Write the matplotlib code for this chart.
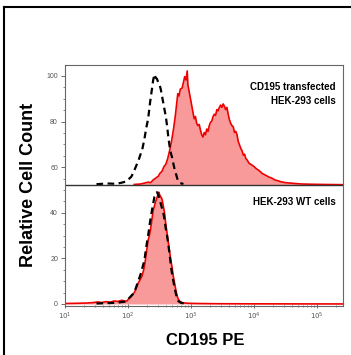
import matplotlib
matplotlib.use('Agg')
import matplotlib.pyplot as plt
import numpy as np
from matplotlib.lines import Line2D

plt.rcParams['font.family'] = ['Liberation Sans', 'DejaVu Sans']

# offset of the upper histogram (separator line)
offset = 52.2

# upper panel : CD195 transfected (red) and control (dashed), log10 of PE
top_red_logx = [2.10, 2.20, 2.26, 2.32, 2.36, 2.40, 2.44, 2.48, 2.51, 2.54, 2.57, 2.60, 2.63, 2.66,
                2.69, 2.72, 2.75, 2.77, 2.79, 2.81, 2.83, 2.86, 2.88, 2.90, 2.92, 2.94, 2.95, 2.97,
                2.99, 3.01, 3.03, 3.05, 3.07, 3.09, 3.11, 3.13, 3.15, 3.17, 3.19, 3.21, 3.23, 3.25,
                3.27, 3.29, 3.31, 3.33, 3.35, 3.37, 3.39, 3.41, 3.43, 3.45, 3.47, 3.49, 3.51, 3.53,
                3.55, 3.57, 3.59, 3.61, 3.63, 3.65, 3.67, 3.69, 3.71, 3.73, 3.75, 3.77, 3.79, 3.81,
                3.83, 3.85, 3.87, 3.89, 3.92, 3.95, 3.98, 4.01, 4.04, 4.07, 4.10, 4.13, 4.16, 4.20,
                4.24, 4.28, 4.33, 4.38, 4.44, 4.50, 4.58, 4.66, 4.75, 4.90, 5.10, 5.40]
top_red = [0.2, 0.4, 0.8, 1.2, 1.0, 2.2, 3.0, 3.8, 5.2, 6.0, 8.0, 9.0, 11.5, 15,
           19, 24, 30, 35, 40, 39, 42, 42.5, 45, 47.5, 46, 50, 44, 41,
           38, 35, 32, 29, 30, 27, 26, 26.5, 24, 22, 21, 23, 22, 24.5,
           23.5, 26, 27.5, 28, 30, 31, 30.5, 33, 32.5, 34, 35, 34, 35.5, 34.5,
           33, 34, 31, 28.5, 27, 26, 25.5, 23, 23.5, 22, 19, 17.5, 16, 15,
           13, 13.5, 11.5, 11, 9.5, 9, 8.5, 7.8, 7, 6.5, 5.8, 5.0, 4.6, 4.0,
           3.4, 3.0, 2.2, 1.8, 1.3, 1.0, 0.8, 0.6, 0.4, 0.3, 0.2, 0.1]

top_ctrl_logx = [1.50, 1.60, 1.70, 1.80, 1.87, 1.93, 1.97, 2.01, 2.05, 2.08, 2.11, 2.14, 2.17, 2.20,
                 2.23, 2.26, 2.29, 2.32, 2.35, 2.38, 2.40, 2.42, 2.44, 2.46, 2.48, 2.50, 2.52, 2.54,
                 2.56, 2.58, 2.60, 2.62, 2.64, 2.66, 2.68, 2.70, 2.73, 2.76, 2.79, 2.83, 2.88]
top_ctrl = [0.3, 0.5, 0.6, 0.5, 0.8, 1.2, 1.5, 2.5, 3.5, 5, 7, 9, 11, 13.5,
            16, 20, 25, 29, 36, 42, 46, 48.5, 47, 46.5, 45, 44, 42, 39,
            36, 33, 30, 26, 21, 17, 14, 12, 8, 5, 2, 0.8, 0.4]

# lower panel : HEK-293 WT cells
bot_red_logx = [1.00, 1.20, 1.35, 1.45, 1.52, 1.58, 1.65, 1.72, 1.78, 1.84, 1.90, 1.95, 1.98, 2.02,
                2.05, 2.08, 2.11, 2.14, 2.16, 2.19, 2.22, 2.25, 2.27, 2.30, 2.32, 2.34, 2.36, 2.38,
                2.40, 2.42, 2.44, 2.46, 2.47, 2.49, 2.50, 2.52, 2.54, 2.56, 2.58, 2.60, 2.62, 2.64,
                2.66, 2.68, 2.70, 2.72, 2.74, 2.76, 2.78, 2.80, 2.83, 2.87, 2.95, 3.10, 3.40, 4.00, 5.40]
bot_red = [0.2, 0.3, 0.4, 0.6, 0.9, 0.6, 1.0, 0.8, 1.3, 1.1, 1.6, 1.3, 1.2, 2.5,
           3.3, 4.2, 5.5, 7.5, 9, 10.5, 12, 15, 18, 24, 28, 30, 33, 37,
           41, 43, 45, 46.5, 47.5, 49, 48, 47, 46, 43, 40, 35, 31, 27,
           23, 19, 16, 12, 9, 6, 3.5, 2.0, 1.0, 0.5, 0.3, 0.2, 0.1, 0.05, 0.0]

bot_ctrl_logx = [1.50, 1.80, 1.95, 2.00, 2.05, 2.10, 2.15, 2.20, 2.23, 2.26, 2.29, 2.32, 2.35, 2.38,
                 2.40, 2.42, 2.44, 2.46, 2.48, 2.50, 2.52, 2.54, 2.56, 2.58, 2.60, 2.62, 2.64, 2.66,
                 2.68, 2.70, 2.72, 2.74, 2.76, 2.78, 2.80, 2.84, 2.90]
bot_ctrl = [0.2, 0.5, 1.0, 2.0, 3.5, 5, 9, 13, 16, 19, 25, 30, 36, 41,
            44, 47, 48, 49, 48, 46, 44, 42, 40, 37, 33, 30, 26, 22,
            17, 13, 10, 7, 4.5, 2.5, 1.2, 0.5, 0.2]

red_fill = '#f99a9a'
red_line = '#ee0000'

fig = plt.figure(figsize=(3.51, 3.55), dpi=100)
ax = fig.add_axes([0.185, 0.138, 0.792, 0.679])

# lower histograms
x = 10 ** np.array(bot_red_logx)
ax.fill_between(x, 0, bot_red, color=red_fill, lw=0)
ax.plot(x, bot_red, color=red_line, lw=1.2)
ax.plot(10 ** np.array(bot_ctrl_logx), bot_ctrl, color='black', lw=1.6, ls=(0, (3, 2)))

# upper histograms (shifted by offset)
x = 10 ** np.array(top_red_logx)
y = offset + np.array(top_red)
ax.fill_between(x, offset, y, color=red_fill, lw=0)
ax.plot(x, y, color=red_line, lw=1.2)
ax.plot(10 ** np.array(top_ctrl_logx), offset + np.array(top_ctrl), color='black', lw=1.6,
        ls=(0, (3, 2)))

ax.axhline(offset, color='#333333', lw=1.0)

ax.set_xscale('log')
ax.set_xlim(10 ** 1.0, 10 ** 5.41)
ax.set_ylim(-0.9, 104.8)
ax.set_yticks([0, 20, 40, 60, 80, 100])
ax.set_yticks(np.arange(0, 105, 5), minor=True)
ax.set_xticks([1e1, 1e2, 1e3, 1e4, 1e5])
ax.set_xticklabels([r'$10^{1}$', r'$10^{2}$', r'$10^{3}$', r'$10^{4}$', r'$10^{5}$'])
ax.tick_params(which='major', labelsize=5, colors='#555555', length=3, width=0.6, pad=2)
ax.tick_params(which='minor', colors='#555555', length=1.5, width=0.5)
ax.tick_params(axis='x', which='both', direction='inout')
for s in ax.spines.values():
    s.set_color('#666666')
    s.set_linewidth(0.8)

ax.text(0.975, 0.88, 'CD195 transfected\nHEK-293 cells', transform=ax.transAxes,
        ha='right', va='center', fontsize=7, fontweight='bold', linespacing=1.45)
ax.text(0.975, 0.43, 'HEK-293 WT cells', transform=ax.transAxes,
        ha='right', va='center', fontsize=7, fontweight='bold')

fig.text(0.08, 0.48, 'Relative Cell Count', rotation=90, ha='center', va='center',
         fontsize=13, fontweight='bold')
fig.text(0.584, 0.04, 'CD195 PE', ha='center', va='center', fontsize=12, fontweight='bold')

# outer frame (left and top edges)
fig.add_artist(Line2D([0.011, 0.011], [0.0, 0.981], color='black', lw=1.5,
                      transform=fig.transFigure))
fig.add_artist(Line2D([0.011, 1.0], [0.981, 0.981], color='black', lw=1.5,
                      transform=fig.transFigure))

fig.savefig('out.png', dpi=100)
